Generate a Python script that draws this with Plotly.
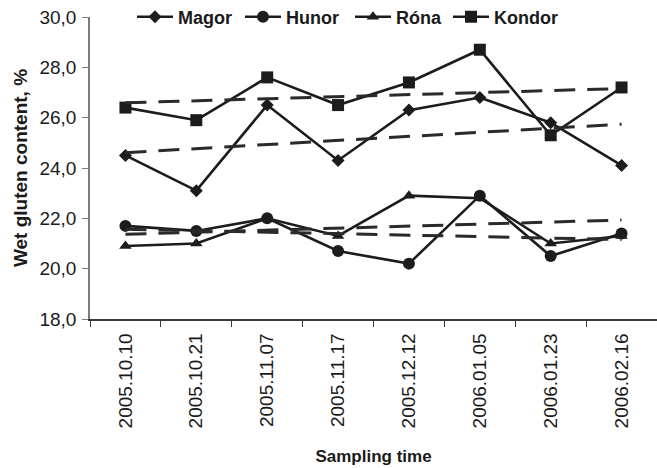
import numpy as np
import plotly.graph_objects as go

dates = ["2005.10.10", "2005.10.21", "2005.11.07", "2005.11.17",
         "2005.12.12", "2006.01.05", "2006.01.23", "2006.02.16"]
magor = [24.5, 23.1, 26.5, 24.3, 26.3, 26.8, 25.8, 24.1]
hunor = [21.7, 21.5, 22.0, 20.7, 20.2, 22.9, 20.5, 21.4]
rona = [20.9, 21.0, 22.0, 21.3, 22.9, 22.8, 21.0, 21.3]
kondor = [26.4, 25.9, 27.6, 26.5, 27.4, 28.7, 25.3, 27.2]

series = [
    ("Magor", magor, "diamond", 10),
    ("Hunor", hunor, "circle", 12),
    ("Róna", rona, "triangle-up", 11),
    ("Kondor", kondor, "square", 12),
]
legend_ids = ["legend", "legend2", "legend3", "legend4"]
legend_x = [132, 240, 350, 448]

LC = "#1c1c1c"
fig = go.Figure()
xi = np.arange(len(dates))
for (name, vals, sym, sz), lid in zip(series, legend_ids):
    fig.add_trace(go.Scatter(
        x=dates, y=vals, name=name, mode="lines+markers",
        line=dict(color=LC, width=2.6),
        marker=dict(symbol=sym, size=sz, color=LC),
        legend=lid,
    ))
for name, vals, sym, sz in series:
    k, b = np.polyfit(xi, vals, 1)
    fig.add_trace(go.Scatter(
        x=[dates[0], dates[-1]], y=[b, b + k * xi[-1]], mode="lines",
        line=dict(color="#2a2a2a", width=3, dash="21px,12px"),
        showlegend=False, hoverinfo="skip",
    ))

legend_font = dict(size=18, family="Liberation Sans, Arial, sans-serif", weight="bold")
legends = {}
for lid, lx in zip(legend_ids, legend_x):
    legends[lid] = dict(
        orientation="h", xref="container", yref="container",
        x=lx / 657, xanchor="left", y=1 - 17 / 468, yanchor="middle",
        font=legend_font, bgcolor="rgba(0,0,0,0)", borderwidth=0, itemwidth=36,
    )

fig.update_layout(
    width=657, height=468,
    margin=dict(l=90, r=0, t=17, b=149, autoexpand=False),
    plot_bgcolor="white", paper_bgcolor="white",
    separators=", ",
    font=dict(family="Liberation Sans, Arial, sans-serif", color="#1a1a1a"),
    xaxis=dict(
        type="category", range=[-0.5, 7.5], automargin=False,
        showline=True, linecolor="#3a3a3a", linewidth=1.5,
        ticks="outside", tickson="boundaries", ticklen=6, tickcolor="#3a3a3a",
        tickangle=-90, tickfont=dict(size=19, color="#1a1a1a"),
        ticklabelstandoff=5,
        showgrid=False, zeroline=False,
        title=dict(text="<b>Sampling time</b>", font=dict(size=17), standoff=23),
    ),
    yaxis=dict(
        range=[18, 30], dtick=2, tickformat=".1f", automargin=False,
        showline=True, linecolor="#7a7a7a", linewidth=1.5,
        ticks="outside", ticklen=6, tickcolor="#7a7a7a",
        tickfont=dict(size=19, color="#1a1a1a"), ticklabelstandoff=2,
        showgrid=False, zeroline=False,
        title=dict(text="<b>Wet gluten content, %</b>", font=dict(size=19), standoff=7),
    ),
    **legends,
)

fig.write_html("out.html", config={"displayModeBar": False},
               post_script="document.body.style.margin='0';document.body.style.padding='0';")
